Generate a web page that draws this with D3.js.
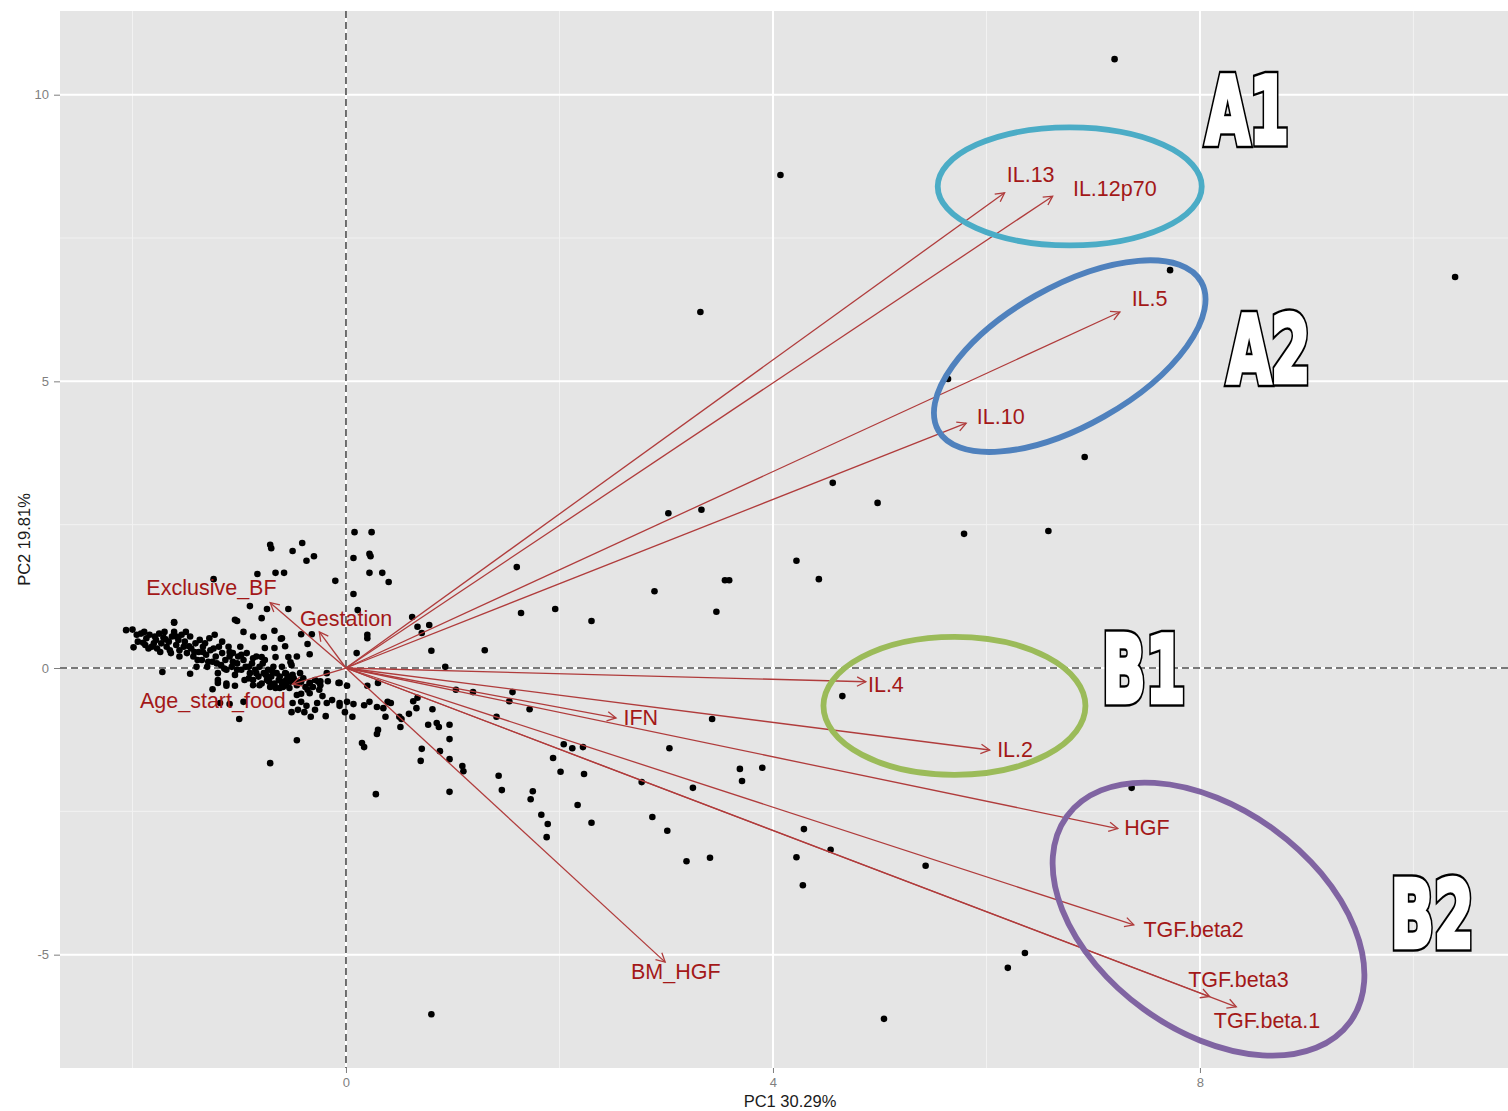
<!DOCTYPE html>
<html>
<head>
<meta charset="utf-8">
<script src="https://cdn.jsdelivr.net/npm/d3@7"></script>
<style>
  html, body { margin: 0; padding: 0; background: #ffffff; }
  svg { display: block; }
</style>
</head>
<body>
<svg id="chart" width="1508" height="1111"></svg>
<script>
// ---- axis ticks and titles ----
const xTicks = [0, 4, 8];
const yTicks = [-5, 0, 5, 10];
const xMinorTicks = [-2, 2, 6, 10];
const yMinorTicks = [-2.5, 2.5, 7.5];
const xTitle = "PC1 30.29%";
const yTitle = "PC2 19.81%";

// ---- observation scores (PC1, PC2) ----
const scoresPC1 = [
  7.20, 4.07, 3.32, 10.39, 7.72, 5.64, 6.92, 4.56, 4.98, 5.79, 6.58, 3.02, 3.33, 4.22, 4.43, 3.55, 3.59, 2.89, 3.47, 2.30,
  1.60, 1.64, 1.96, 1.30, 0.80, 4.65, 3.43, 2.04, 2.12, 2.22, 3.03, 2.01, 2.23, 3.69, 3.90, 3.71, 2.77, 3.25, 2.17, 2.30,
  2.87, 3.01, 4.29, 4.54, 4.22, 5.43, 3.19, 3.41, 4.28, 7.36, 6.36, 6.20, 5.04, 1.83, 1.89, 1.88, 1.75, 1.73, 1.94, 1.43,
  1.46, 0.97, 0.28, 0.70, 0.97, 1.09, 1.10, 0.71, 0.88, 0.97, 0.30, 0.29, 0.15, 0.17, 0.77, 0.85, 0.87, 0.97, 0.51, 0.37,
  0.50, 0.52, 0.59, 0.81, 0.67, 0.63, 0.66, 1.41, 1.72, 1.53, 1.56, 1.19, 1.03, 0.93, 0.30, 0.20, 0.17, 0.22, 0.29, 0.35,
  0.39, 0.42, 0.06, -0.06, 0.01, 0.07, -0.06, 0.01, 0.10, 0.20, 0.20, 0.11, 0.07, 0.62, 0.67, 0.71, 0.78, 0.08, 0.24, 0.07,
  0.22, 0.23, 0.22, 0.34, 0.40, -0.71, 0.80, -0.71, -0.70, -0.41, -0.50, -0.37, -0.30, -0.83, -0.66, -0.58, -1.24, -0.10, -0.90, -0.74,
  -0.54, -0.79, -1.02, -1.61, -0.96, -0.67, -0.42, -0.32, -0.34, -0.36, -0.77, -0.61, -0.76, -0.67, -0.57, -0.79, -0.66, -0.54, -0.52, -0.47,
  -0.56, -0.50, -0.34, -0.24, -0.17, -0.07, -0.34, -0.25, -0.46, -0.42, -0.50, -0.42, -0.22, -0.51, -0.45, -0.39, -0.37, -0.27, -0.29, -0.18,
  -0.06, -0.01, -0.33, -0.67, -0.60, -1.18, -1.09, -0.96, -1.20, -1.12, -1.04, -1.25, -1.46, -1.72, -0.46, -1.00, -0.19, -1.04, -0.60, -0.87,
  -1.20, -1.12, -0.87,
  -2.06, -2.00, -1.99, -1.92, -1.90, -1.88, -1.87, -1.84, -1.82, -1.80, -1.78, -1.77, -1.75, -1.73, -1.71, -1.70, -1.68, -1.66, -1.65, -1.63,
  -1.61, -1.61, -1.59, -1.57, -1.56, -1.54, -1.52,
  -1.51, -1.49, -1.46, -1.45, -1.43, -1.41, -1.40, -1.38, -1.37, -1.35, -1.34, -1.31, -1.30, -1.28, -1.27, -1.25, -1.23, -1.22, -1.20, -1.19,
  -1.17, -1.16, -1.13, -1.12, -1.10, -1.09, -1.07, -1.06, -1.04, -1.02, -1.01, -0.99, -0.98, -0.96, -0.95, -0.93, -0.91, -0.90, -0.88, -0.87,
  -0.85, -0.84, -0.82, -0.81, -0.79, -0.77, -0.76, -0.74, -0.73, -0.71, -0.70, -0.68, -0.67, -0.65, -0.63, -0.62, -0.60, -0.59, -0.57, -0.56,
  -0.54, -0.52,
  -0.51, -0.46, -0.43, -0.42, -0.38, -0.34, -0.29, -0.26, -0.24, -0.18, -0.13,
  -1.96, -1.95, -1.89, -1.85, -1.79, -1.74, -1.69, -1.64, -1.59, -1.56, -1.50, -1.47, -1.42, -1.39, -1.34, -1.32, -1.29, -1.24, -1.21, -1.16,
  -1.14, -1.09, -1.06, -1.02, -0.98, -0.94, -0.91, -0.87, -0.84, -0.81, -0.78, -0.75, -0.72, -0.69, -0.66, -0.62, -0.59, -0.56, -0.53, -0.49,
  -0.46, -0.40, -0.36, -0.31
];
const scoresPC2 = [
  10.62, 8.60, 6.21, 6.82, 6.94, 5.04, 3.68, 3.23, 2.88, 2.34, 2.39, 2.70, 2.76, 1.87, 1.55, 1.53, 1.53, 1.34, 0.98, 0.82,
  1.76, 0.96, 1.03, 0.31, 0.30, -0.49, -0.89, -1.33, -1.40, -1.38, -1.40, -1.81, -1.85, -1.76, -1.74, -1.97, -1.99, -2.09, -2.39, -2.70,
  -2.60, -2.84, -2.81, -3.17, -3.30, -3.45, -3.37, -3.31, -3.79, -2.09, -4.97, -5.23, -6.12, -2.56, -2.72, -2.95, -2.15, -2.29, -1.57, -1.88,
  -2.13, -2.16, -2.20, -1.62, -1.59, -1.71, -1.80, -1.41, -1.45, -1.24, -1.08, -1.15, -1.31, -1.38, -0.99, -0.96, -1.03, -0.99, -1.03, -0.85,
  -0.85, -0.89, -0.80, -0.72, -0.52, -0.58, -0.70, -0.85, -0.72, -0.58, -0.42, -0.42, -0.38, 0.02, -0.26, -0.31, -0.65, -0.59, -0.68, -0.70,
  -0.59, -0.61, -0.85, -0.66, -0.59, -0.63, -0.26, -0.31, 0.26, 0.58, 0.52, 1.01, 1.29, 0.89, 0.72, 0.61, 0.75, 2.37, 2.37, 1.92,
  1.99, 1.95, 1.66, 1.66, 1.50, -1.66, -6.04, 2.15, 2.09, 2.18, 2.04, 1.87, 1.95, 1.64, 1.66, 1.66, 1.55, 1.52, 1.08, 1.03,
  1.03, 0.87, 0.82, 0.80, 0.63, 0.65, 0.59, 0.59, 0.24, 0.42, 0.54, 0.51, 0.35, 0.35, 0.38, 0.19, 0.19, 0.19, 0.10, -0.23,
  -0.10, -0.12, -0.26, -0.23, -0.23, -0.26, -0.44, -0.38, -0.47, -0.45, -0.61, -0.59, -0.49, -0.77, -0.73, -0.77, -0.66, -0.61, -0.73, -0.61,
  -0.61, -0.77, -0.85, -0.31, -0.26, -0.61, -0.63, -0.59, -0.26, -0.31, -0.31, -0.37, -0.10, -0.07, -1.26, -0.89, -0.84, 0.84, 0.52, 0.55,
  -0.21, -0.27, -0.30,
  0.66, 0.67, 0.36, 0.60, 0.44, 0.40, 0.52, 0.58, 0.37, 0.43, 0.49, 0.34, 0.60, 0.43, 0.53, 0.63, 0.37, 0.46, 0.31, 0.55,
  0.79, 0.63, 0.40, 0.49, 0.31, 0.58, 0.37,
  0.46, 0.26, 0.55, 0.34, 0.20, 0.43, 0.02, 0.28, 0.49, 0.14, 0.37, 0.23, 0.02, 0.52, 0.31, 0.11, 0.58, 0.20, -0.09, 0.37,
  0.05, 0.26, 0.14, -0.03, 0.37, 0.20, 0.02, 0.26, -0.12, 0.08, 0.20, 0.37, -0.03, 0.14, -0.21, 0.26, 0.02, -0.09, 0.08, -0.21,
  -0.03, 0.20, -0.15, 0.02, -0.27, -0.09, 0.14, -0.21, -0.03, -0.33, -0.15, 0.02, -0.27, -0.09, -0.21, -0.35, 0.02, -0.24, -0.09, -0.30,
  -0.15, -0.24,
  0.05, 0.20, -0.09, -0.24, -0.33, -0.27, -0.21, -0.24, -0.30, -0.09, -0.56,
  0.58, 0.46, 0.63, 0.34, 0.55, 0.28, 0.50, 0.26, 0.55, 0.20, 0.63, 0.38, 0.28, 0.14, 0.28, 0.43, 0.11, 0.34, 0.08, 0.46,
  -0.01, 0.28, 0.11, -0.03, 0.23, 0.02, -0.18, 0.17, -0.09, -0.30, 0.08, -0.12, -0.24, -0.06, -0.35, -0.15, -0.33, -0.21, -0.35, -0.18,
  -0.30, -0.18, -0.38, -0.33
];

// ---- variable loadings (arrow tips) and label anchors ----
const loadingNames = ["IL.13", "IL.12p70", "IL.5", "IL.10", "IL.4", "IL.2", "IFN", "HGF",
  "TGF.beta2", "TGF.beta3", "TGF.beta.1", "BM_HGF", "Exclusive_BF", "Gestation", "Age_start_food"];
const loadingPC1 = [6.17, 6.62, 7.25, 5.81, 4.87, 6.03, 2.53, 7.23, 7.38, 8.09, 8.34, 2.99, -0.71, -0.25, -0.50];
const loadingPC2 = [8.29, 8.23, 6.21, 4.27, -0.24, -1.43, -0.87, -2.80, -4.48, -5.73, -5.91, -5.13, 1.14, 0.63, -0.28];
const labelPC1 = [6.19, 6.81, 7.36, 5.91, 4.89, 6.10, 2.60, 7.29, 7.47, 7.89, 8.13, 2.67, -1.87, -0.43, -1.93];
const labelPC2 = [8.61, 8.37, 6.45, 4.39, -0.29, -1.42, -0.86, -2.78, -4.56, -5.43, -6.15, -5.30, 1.40, 0.86, -0.57];

// ---- highlighted variable groups ----
const groupNames = ["A1", "A2", "B1", "B2"];
const groupCenterPC1 = [6.78, 6.78, 5.70, 8.08];
const groupCenterPC2 = [8.40, 5.44, -0.66, -4.38];
const groupTagPC1 = [8.01, 8.21, 7.04, 9.74];
const groupTagPC2 = [9.07, 4.90, -0.68, -4.95];

// ---- drawing ----
const svg = d3.select("#chart");
const panel = { left: 60, right: 1520, top: 11, bottom: 1068 };

const x = d3.scaleLinear().domain([-2.679, 10.998]).range([panel.left, panel.right]);
const y = d3.scaleLinear().domain([-6.977, 11.46]).range([panel.bottom, panel.top]);

const ellipseStyle = {
  A1: { color: "#4bacc6", rx: 132, ry: 59, rot: 0 },
  A2: { color: "#4f81bd", rx: 151, ry: 69.5, rot: -29.5 },
  B1: { color: "#9bbb59", rx: 131, ry: 69, rot: 0 },
  B2: { color: "#8064a2", rx: 175, ry: 111, rot: 36 }
};

svg.append("defs").append("clipPath").attr("id", "panel-clip")
  .append("rect")
  .attr("x", panel.left).attr("y", panel.top)
  .attr("width", panel.right - panel.left).attr("height", panel.bottom - panel.top);

// panel background
svg.append("rect")
  .attr("x", panel.left).attr("y", panel.top)
  .attr("width", panel.right - panel.left).attr("height", panel.bottom - panel.top)
  .attr("fill", "#e5e5e5");

const plot = svg.append("g").attr("clip-path", "url(#panel-clip)");

// grid lines
plot.selectAll("line.vminor").data(xMinorTicks).join("line")
  .attr("x1", d => x(d)).attr("x2", d => x(d))
  .attr("y1", panel.top).attr("y2", panel.bottom)
  .attr("stroke", "#f2f2f2").attr("stroke-width", 1);
plot.selectAll("line.hminor").data(yMinorTicks).join("line")
  .attr("y1", d => y(d)).attr("y2", d => y(d))
  .attr("x1", panel.left).attr("x2", panel.right)
  .attr("stroke", "#f2f2f2").attr("stroke-width", 1);
plot.selectAll("line.vmajor").data(xTicks).join("line")
  .attr("x1", d => x(d)).attr("x2", d => x(d))
  .attr("y1", panel.top).attr("y2", panel.bottom)
  .attr("stroke", "#ffffff").attr("stroke-width", 2);
plot.selectAll("line.hmajor").data(yTicks).join("line")
  .attr("y1", d => y(d)).attr("y2", d => y(d))
  .attr("x1", panel.left).attr("x2", panel.right)
  .attr("stroke", "#ffffff").attr("stroke-width", 2);

// dashed reference lines through the origin
plot.append("line")
  .attr("x1", panel.left).attr("x2", panel.right)
  .attr("y1", y(0)).attr("y2", y(0))
  .attr("stroke", "#4d4d4d").attr("stroke-width", 1.6).attr("stroke-dasharray", "7,4");
plot.append("line")
  .attr("x1", x(0)).attr("x2", x(0))
  .attr("y1", panel.top).attr("y2", panel.bottom)
  .attr("stroke", "#4d4d4d").attr("stroke-width", 1.6).attr("stroke-dasharray", "7,4");

// observation points
const scores = scoresPC1.map((v, i) => ({ pc1: v, pc2: scoresPC2[i] }));
plot.selectAll("circle.obs").data(scores).join("circle")
  .attr("class", "obs")
  .attr("cx", d => x(d.pc1)).attr("cy", d => y(d.pc2))
  .attr("r", 3.3).attr("fill", "#000000");

// loading arrows
const arrowColor = "#b03c3c";
const loadings = loadingNames.map((n, i) => ({
  name: n, pc1: loadingPC1[i], pc2: loadingPC2[i], lx: labelPC1[i], ly: labelPC2[i]
}));
const headLen = 10, headAng = 28 * Math.PI / 180;
function headPath(d) {
  const x0 = x(0), y0 = y(0), x1 = x(d.pc1), y1 = y(d.pc2);
  const a = Math.atan2(y1 - y0, x1 - x0);
  const p1 = [x1 - headLen * Math.cos(a - headAng), y1 - headLen * Math.sin(a - headAng)];
  const p2 = [x1 - headLen * Math.cos(a + headAng), y1 - headLen * Math.sin(a + headAng)];
  return `M${p1[0]},${p1[1]}L${x1},${y1}L${p2[0]},${p2[1]}`;
}
const arrows = plot.append("g");
arrows.selectAll("line").data(loadings).join("line")
  .attr("x1", x(0)).attr("y1", y(0))
  .attr("x2", d => x(d.pc1)).attr("y2", d => y(d.pc2))
  .attr("stroke", arrowColor).attr("stroke-width", 1.3);
arrows.selectAll("path").data(loadings).join("path")
  .attr("d", headPath)
  .attr("fill", "none").attr("stroke", arrowColor).attr("stroke-width", 1.3);

plot.append("g").selectAll("text").data(loadings).join("text")
  .attr("x", d => x(d.lx)).attr("y", d => y(d.ly))
  .attr("dy", "0.35em")
  .attr("fill", "#a31818")
  .style("font-family", "'Liberation Sans', Arial, sans-serif")
  .style("font-size", "21.5px")
  .text(d => d.name);

// group ellipses
const groups = groupNames.map((g, i) => ({
  name: g, cx: groupCenterPC1[i], cy: groupCenterPC2[i], tx: groupTagPC1[i], ty: groupTagPC2[i]
}));
plot.append("g").selectAll("ellipse").data(groups).join("ellipse")
  .attr("transform", d => `translate(${x(d.cx)},${y(d.cy)}) rotate(${ellipseStyle[d.name].rot})`)
  .attr("rx", d => ellipseStyle[d.name].rx)
  .attr("ry", d => ellipseStyle[d.name].ry)
  .attr("fill", "none")
  .attr("stroke", d => ellipseStyle[d.name].color)
  .attr("stroke-width", 5.8);

// group tags: heavy, horizontally condensed white letters with a black outline
// (outer black layer, then a white layer that thickens the glyphs)
const tagFont = "'DejaVu Sans', 'Liberation Sans', sans-serif";
const tagSize = 93, tagWidth = 83, inset = 4.8;
const tags = svg.append("g");
[{ fill: "#000000", stroke: "#000000", sw: 9.6 }, { fill: "#ffffff", stroke: "#ffffff", sw: 4.6 }].forEach(layer => {
  tags.append("g").selectAll("text").data(groups).join("text")
    .attr("x", 0).attr("y", 0)
    .attr("fill", layer.fill).attr("stroke", layer.stroke).attr("stroke-width", layer.sw)
    .attr("stroke-linejoin", "miter")
    .style("font-family", tagFont)
    .style("font-weight", "bold")
    .style("font-size", tagSize + "px")
    .text(d => d.name)
    .attr("transform", function (d) {
      const natural = this.getComputedTextLength() || tagWidth;
      const sx = tagWidth / natural;
      return `translate(${x(d.tx) + inset},${y(d.ty) - inset}) scale(${sx},1)`;
    });
});

// axes
const tickFont = "13px 'Liberation Sans', Arial, sans-serif";
const gx = svg.append("g").attr("transform", `translate(0,${panel.bottom})`)
  .call(d3.axisBottom(x).tickValues(xTicks).tickSize(5).tickPadding(5).tickFormat(d => String(d)));
gx.select(".domain").remove();
gx.selectAll("line").attr("stroke", "#7f7f7f");
gx.selectAll("text").attr("fill", "#7f7f7f").style("font", tickFont);

const gy = svg.append("g").attr("transform", `translate(${panel.left},0)`)
  .call(d3.axisLeft(y).tickValues(yTicks).tickSize(6).tickPadding(5).tickFormat(d => String(d)));
gy.select(".domain").remove();
gy.selectAll("line").attr("stroke", "#7f7f7f");
gy.selectAll("text").attr("fill", "#7f7f7f").style("font", tickFont);

// axis titles
svg.append("text")
  .attr("x", (panel.left + panel.right) / 2).attr("y", 1107)
  .attr("text-anchor", "middle").attr("fill", "#1a1a1a")
  .style("font", "16.5px 'Liberation Sans', Arial, sans-serif")
  .text(xTitle);
svg.append("text")
  .attr("transform", `translate(30,${(panel.top + panel.bottom) / 2}) rotate(-90)`)
  .attr("text-anchor", "middle").attr("fill", "#1a1a1a")
  .style("font", "16.5px 'Liberation Sans', Arial, sans-serif")
  .text(yTitle);
</script>
</body>
</html>
